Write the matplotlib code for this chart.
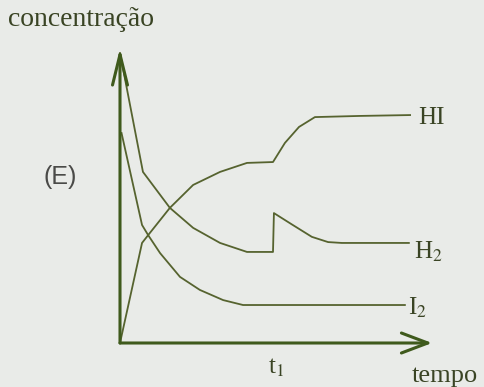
import matplotlib
matplotlib.use("Agg")
import matplotlib.pyplot as plt

# ---- data (arbitrary units) ----
t1 = 5.0
h2_t = [0, 0.75, 1.63, 2.39, 3.27, 4.15, 5.0, 5.03, 5.6, 6.27, 6.8, 7.25, 9.44]
h2_c = [1.0, 0.590, 0.466, 0.397, 0.345, 0.314, 0.314, 0.448, 0.41, 0.366, 0.348, 0.345, 0.345]

i2_t = [0.05, 0.72, 0.92, 1.31, 1.96, 2.61, 3.37, 4.02, 9.31]
i2_c = [0.724, 0.407, 0.372, 0.310, 0.228, 0.183, 0.148, 0.131, 0.131]

hi_t = [0, 0.72, 0.92, 1.63, 2.39, 3.27, 4.15, 5.0, 5.39, 5.85, 6.37, 7.84, 9.48]
hi_c = [0, 0.345, 0.372, 0.466, 0.545, 0.59, 0.621, 0.624, 0.69, 0.745, 0.779, 0.783, 0.786]

series_labels = ["HI", "H$_2$", "I$_2$"]
x_label = "tempo"
y_label = "concentração"
tick_label = "t$_1$"
panel_label = "(E)"

# ---- style ----
plt.rcParams['mathtext.fontset'] = 'stix'
bg = '#e9ebe8'
line_col = '#56632f'
axis_col = '#3f5a1c'
text_col = '#3a4424'
serif = ['Liberation Serif', 'DejaVu Serif']

W, H = 484, 387
fig = plt.figure(figsize=(W / 100, H / 100), dpi=100, facecolor=bg)
ox, oy = 120, 343          # origin in pixels
px_t, px_c = 30.6, 290.0   # pixels per data unit
xmax, ymax = 10.5, 1.05
ax = fig.add_axes([ox / W, (H - oy) / H, xmax * px_t / W, ymax * px_c / H])
ax.set_xlim(0, xmax)
ax.set_ylim(0, ymax)
ax.set_facecolor(bg)
ax.axis('off')

# curves
for tt, cc in [(hi_t, hi_c), (h2_t, h2_c), (i2_t, i2_c)]:
    ax.plot(tt, cc, color=line_col, lw=1.3, solid_joinstyle='round', clip_on=False)

# axes arrows
ax.annotate("", xy=(10.2, 0), xytext=(0, 0), annotation_clip=False,
            arrowprops=dict(arrowstyle="->,head_length=0.95,head_width=0.36",
                            mutation_scale=20, lw=2.2, color=axis_col,
                            shrinkA=0, shrinkB=0))
ax.annotate("", xy=(0, 1.017), xytext=(0, 0), annotation_clip=False,
            arrowprops=dict(arrowstyle="->,head_length=1.1,head_width=0.27",
                            mutation_scale=20, lw=2.2, color=axis_col,
                            shrinkA=0, shrinkB=0))

# series labels at line ends
ax.text(hi_t[-1] + 0.25, hi_c[-1] - 0.01, series_labels[0], family=serif, fontsize=18,
        color=text_col, ha='left', va='center', clip_on=False)
ax.text(h2_t[-1] + 0.17, h2_c[-1] - 0.03, series_labels[1], family=serif, fontsize=18,
        color=text_col, ha='left', va='center', clip_on=False)
ax.text(i2_t[-1] + 0.1, i2_c[-1] - 0.01, series_labels[2], family=serif, fontsize=18,
        color=text_col, ha='left', va='center', clip_on=False)

# t1 and axis labels
ax.text(t1 + 0.1, -0.085, tick_label, family=serif, fontsize=18, color=text_col,
        ha='center', va='center', clip_on=False)
ax.text(9.52, -0.115, x_label, family=serif, fontsize=19, color=text_col,
        ha='left', va='center', clip_on=False)
fig.text(8 / W, 1 - 20 / H, y_label, family=serif, fontsize=20, color=text_col,
         ha='left', va='center')
fig.text(60 / W, 1 - 177 / H, panel_label, family=['Liberation Sans', 'DejaVu Sans'],
         fontsize=18, color='#4a4a48', ha='center', va='center')

fig.savefig("out.png", dpi=100, facecolor=bg)
